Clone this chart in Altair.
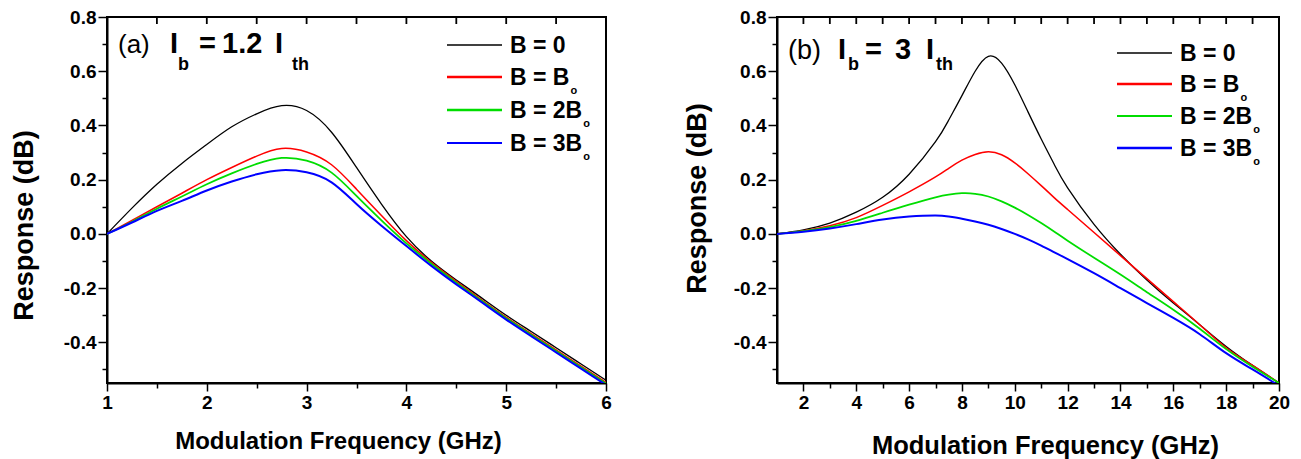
import altair as alt
import pandas as pd

FONT = "Liberation Sans"

# ---------------- data ----------------
series = ["B = 0", "B = Bo", "B = 2Bo", "B = 3Bo"]
legend_main = ["B = 0", "B = B", "B = 2B", "B = 3B"]
legend_sub = ["", "o", "o", "o"]
colors = ["#000000", "#ff0000", "#00dd00", "#0000ff"]

# panel (a): Ib = 1.2 Ith
freq_a = [1.0, 1.25, 1.5, 1.75, 2.0, 2.25, 2.5, 2.75, 3.0, 3.25, 3.5, 3.75,
          4.0, 4.25, 4.5, 4.75, 5.0, 5.25, 5.5, 5.75, 6.0]
a_b0 = [0, 0.095, 0.183, 0.26, 0.33, 0.395, 0.443, 0.473, 0.455, 0.375, 0.245, 0.11,
        -0.01, -0.10, -0.17, -0.235, -0.30, -0.36, -0.42, -0.48, -0.54]
a_b1 = [0, 0.05, 0.10, 0.15, 0.20, 0.245, 0.287, 0.315, 0.302, 0.255, 0.165, 0.068,
        -0.025, -0.105, -0.175, -0.242, -0.307, -0.368, -0.428, -0.488, -0.548]
a_b2 = [0, 0.045, 0.093, 0.138, 0.183, 0.223, 0.258, 0.28, 0.27, 0.226, 0.14, 0.05,
        -0.035, -0.11, -0.18, -0.246, -0.311, -0.372, -0.432, -0.492, -0.552]
a_b3 = [0, 0.042, 0.085, 0.122, 0.16, 0.193, 0.22, 0.235, 0.227, 0.19, 0.11, 0.03,
        -0.045, -0.118, -0.186, -0.251, -0.316, -0.377, -0.437, -0.497, -0.557]

# panel (b): Ib = 3 Ith
freq_b = [1, 2, 3, 4, 5, 6, 7, 7.5, 8, 8.5, 9, 9.5, 10, 10.5, 11, 11.5, 12, 13, 14,
          15, 16, 17, 18, 19, 20]
b_b0 = [0, 0.015, 0.04, 0.08, 0.135, 0.22, 0.34, 0.42, 0.51, 0.6, 0.655, 0.63,
        0.55, 0.45, 0.35, 0.255, 0.17, 0.035, -0.075, -0.17, -0.255, -0.335, -0.415, -0.485, -0.55]
b_b1 = [0, 0.012, 0.03, 0.06, 0.105, 0.155, 0.21, 0.242, 0.272, 0.293, 0.303, 0.292,
        0.262, 0.222, 0.178, 0.133, 0.09, 0.005, -0.08, -0.165, -0.25, -0.335, -0.42, -0.485, -0.55]
b_b2 = [0, 0.01, 0.025, 0.048, 0.078, 0.108, 0.135, 0.145, 0.15, 0.148, 0.138, 0.12,
        0.097, 0.07, 0.04, 0.008, -0.025, -0.088, -0.15, -0.215, -0.28, -0.35, -0.425, -0.49, -0.55]
b_b3 = [0, 0.008, 0.02, 0.036, 0.053, 0.064, 0.068, 0.064, 0.056, 0.046, 0.034, 0.018,
        0.0, -0.02, -0.043, -0.068, -0.093, -0.145, -0.2, -0.255, -0.31, -0.37, -0.44, -0.5, -0.56]

y_domain = [-0.55, 0.8]
y_major = [-0.4, -0.2, 0.0, 0.2, 0.4, 0.6, 0.8]
y_minor = [-0.5, -0.3, -0.1, 0.1, 0.3, 0.5, 0.7]

a_x_major = [1, 2, 3, 4, 5, 6]
a_x_minor = [1.5, 2.5, 3.5, 4.5, 5.5]
a_x_top = [1.5, 2, 2.5, 3, 3.5, 4, 4.5, 5, 5.5]

b_x_major = [2, 4, 6, 8, 10, 12, 14, 16, 18, 20]
b_x_minor = [3, 5, 7, 9, 11, 13, 15, 17, 19]
b_x_top = list(range(2, 20))

# --------------- helpers ---------------
ARIAL_BOLD = {"B": 722, " ": 278, "=": 584, "0": 556, "2": 556, "3": 556}


def text_width(s, size):
    return sum(ARIAL_BOLD[c] for c in s) / 1000.0 * size


def make_df(freq, vals_list):
    rows = []
    for name, vals in zip(series, vals_list):
        for f, v in zip(freq, vals):
            rows.append({"f": f, "v": v, "series": name})
    return pd.DataFrame(rows)


def txt(s, x, y, size, weight="bold"):
    return alt.Chart(pd.DataFrame({"t": [s]})).mark_text(
        font=FONT, fontSize=size, fontWeight=weight, align="left",
        baseline="alphabetic", color="black"
    ).encode(x=alt.value(x), y=alt.value(y), text="t:N")


def panel(df, W, H, xdom, xmajor, xminor, xtop, widths, xt, yt, leg_rows, annots):
    xs = alt.Scale(domain=xdom, nice=False, zero=False)
    ys = alt.Scale(domain=y_domain, nice=False, zero=False)
    base = alt.Chart(df)
    lines = base.mark_line(interpolate="natural", clip=True).encode(
        x=alt.X("f:Q", scale=xs, axis=alt.Axis(
            orient="bottom", values=xmajor, format="d", tickSize=8, labelPadding=2,
            labelFlush=False, labelOverlap=False,
            title="Modulation Frequency (GHz)", titleFontSize=xt[0],
            titleX=xt[1], titleY=xt[2], titleAlign="center",
            titleBaseline="alphabetic")),
        y=alt.Y("v:Q", scale=ys, axis=alt.Axis(
            orient="left", values=y_major, tickSize=9, labelPadding=2, labelFlush=False,
            labelOverlap=False,
            labelExpr="replace(format(datum.value, '.1f'), '\u2212', '-')",
            title="Response (dB)", titleFontSize=yt[0], titleAngle=270,
            titleX=yt[1], titleY=yt[2], titleAlign="center",
            titleBaseline="alphabetic")),
        color=alt.Color("series:N", scale=alt.Scale(domain=series, range=colors), legend=None),
        strokeWidth=alt.StrokeWidth("series:N", scale=alt.Scale(domain=series, range=widths), legend=None),
    )
    minor = base.mark_point(opacity=0, clip=True).encode(
        x=alt.X("f:Q", scale=xs, axis=alt.Axis(orient="bottom", values=xminor, labels=False,
                                               domain=False, tickSize=5, title=None)),
        y=alt.Y("v:Q", scale=ys, axis=alt.Axis(orient="left", values=y_minor, labels=False,
                                               domain=False, tickSize=5, title=None)),
    )
    # inward ticks along the top frame, positioned by the x scale
    top = alt.Chart(pd.DataFrame({"f": xtop})).mark_rule(
        color="black", strokeWidth=1.8
    ).encode(
        x=alt.X("f:Q", scale=xs, axis=None),
        y=alt.value(0), y2=alt.value(7),
    )
    extras = []
    lx1, lx2, tx = 340, 395, 403
    fs = 23
    for i, ry in enumerate(leg_rows):
        extras.append(
            alt.Chart(pd.DataFrame({"s": [series[i]]})).mark_rule(
                color=colors[i], strokeWidth=widths[i] + 0.3
            ).encode(x=alt.value(lx1), x2=alt.value(lx2), y=alt.value(ry))
        )
        extras.append(txt(legend_main[i], tx, ry + 8, fs))
        if legend_sub[i]:
            extras.append(txt(legend_sub[i], tx + text_width(legend_main[i], fs) + 1, ry + 17, 11))
    for (s, x, y, size, weight) in annots:
        extras.append(txt(s, x, y, size, weight))
    return alt.layer(lines, minor, top, *extras).resolve_axis(
        x="independent", y="independent"
    ).properties(width=W, height=H)


H = 366
left = panel(
    make_df(freq_a, [a_b0, a_b1, a_b2, a_b3]), 499, H, [1, 6],
    a_x_major, a_x_minor, a_x_top, [1.3, 2.0, 2.2, 1.8],
    (24, 231, 65), (27, -75, 208),
    [28, 60, 93, 126],
    [("(a)", 11, 36, 26, "normal"), ("I", 63, 36, 29, "bold"), ("b", 71, 53, 18, "bold"),
     ("=", 92, 36, 29, "bold"), ("1.2", 115, 36, 29, "bold"), ("I", 168, 36, 29, "bold"),
     ("th", 185, 53, 18, "bold")],
)
right = panel(
    make_df(freq_b, [b_b0, b_b1, b_b2, b_b3]), 502, H, [1, 20],
    b_x_major, b_x_minor, b_x_top, [1.4, 2.0, 1.6, 2.0],
    (25.5, 268, 70), (27, -72, 181),
    [36, 67, 99, 131],
    [("(b)", 11, 42, 27, "normal"), ("I", 61, 42, 29, "bold"), ("b", 71, 53, 18, "bold"),
     ("=", 88, 42, 29, "bold"), ("3", 118, 42, 29, "bold"), ("I", 149, 42, 29, "bold"),
     ("th", 159, 53, 18, "bold")],
)

chart = alt.hconcat(left, right, spacing=171, bounds="flush").configure_view(
    stroke="black", strokeWidth=2
).configure_axis(
    grid=False, domainColor="black", domainWidth=2, tickColor="black", tickWidth=1.5,
    labelFont=FONT, labelFontSize=19, labelFontWeight="bold", labelColor="black",
    titleFont=FONT, titleFontWeight="bold", titleColor="black",
).properties(
    background="white",
    padding={"left": 9, "right": 5, "top": 7, "bottom": 2},
)

chart.save("out.html", embed_options={"renderer": "svg", "actions": False})
